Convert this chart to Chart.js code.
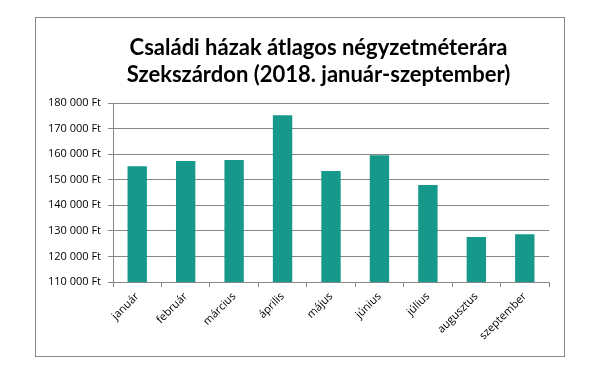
<!DOCTYPE html>
<html>
<head>
<meta charset="utf-8">
<script src="https://cdn.jsdelivr.net/npm/chart.js@4/dist/chart.umd.min.js"></script>
<style>
  html, body { margin: 0; padding: 0; background: #fff; }
  #wrap { position: absolute; left: 0; top: 0; width: 600px; height: 375px; }
</style>
</head>
<body>
<div id="wrap"><canvas id="c" width="600" height="375"></canvas></div>
<script>
const titleLines = ['Családi házak átlagos négyzetméterára', 'Szekszárdon (2018. január-szeptember)'];
const months = ['január', 'február', 'március', 'április', 'május', 'június', 'július', 'augusztus', 'szeptember'];
const prices = [155300, 157300, 157700, 175200, 153400, 159600, 147900, 127600, 128700];
const yMin = 110000;
const yMax = 180000;
const yStep = 10000;
const currency = 'Ft';

function fmt(v) {
  return String(v).replace(/\B(?=(\d{3})+(?!\d))/g, '\u00a0') + '\u00a0' + currency;
}

const frameAndTitle = {
  id: 'frameAndTitle',
  beforeDraw(chart) {
    const ctx = chart.ctx;
    ctx.save();
    ctx.fillStyle = '#fff';
    ctx.fillRect(0, 0, chart.width, chart.height);
    ctx.strokeStyle = '#878787';
    ctx.lineWidth = 1;
    ctx.strokeRect(35.5, 17.5, 529, 339);
    ctx.restore();
  },
  afterDraw(chart) {
    const ctx = chart.ctx;
    ctx.save();
    ctx.fillStyle = '#000';
    ctx.font = 'bold 22px Lato';
    ctx.textAlign = 'center';
    ctx.textBaseline = 'alphabetic';
    ctx.fillText(titleLines[0], 318.5, 55);
    ctx.fillText(titleLines[1], 318.5, 81.5);
    ctx.restore();
  }
};

new Chart(document.getElementById('c'), {
  type: 'bar',
  data: {
    labels: months,
    datasets: [{
      data: prices,
      backgroundColor: '#16998a',
      borderWidth: 0,
      barPercentage: 0.4,
      categoryPercentage: 1.0
    }]
  },
  options: {
    responsive: false,
    animation: false,
    devicePixelRatio: 1,
    layout: { padding: { top: 103, right: 51, bottom: 0, left: 0 } },
    plugins: {
      legend: { display: false },
      title: { display: false },
      tooltip: { enabled: false }
    },
    scales: {
      x: {
        grid: {
          display: true,
          drawOnChartArea: false,
          drawTicks: true,
          tickLength: 5,
          color: '#868686',
          offset: true
        },
        border: { display: true, color: '#868686' },
        ticks: {
          color: '#000',
          font: { family: 'Open Sans', size: 11 },
          maxRotation: 45,
          minRotation: 45,
          padding: 3,
          autoSkip: false
        },
        afterFit(scale) { scale.height = 93; }
      },
      y: {
        min: yMin,
        max: yMax,
        grid: {
          color: '#868686',
          drawTicks: true,
          tickLength: 5
        },
        border: { display: true, color: '#868686' },
        ticks: {
          stepSize: yStep,
          color: '#000',
          font: { family: 'Open Sans', size: 11 },
          padding: 7,
          callback: (v) => fmt(v)
        },
        afterFit(scale) { scale.width = 113; }
      }
    }
  },
  plugins: [frameAndTitle]
});
</script>
</body>
</html>
